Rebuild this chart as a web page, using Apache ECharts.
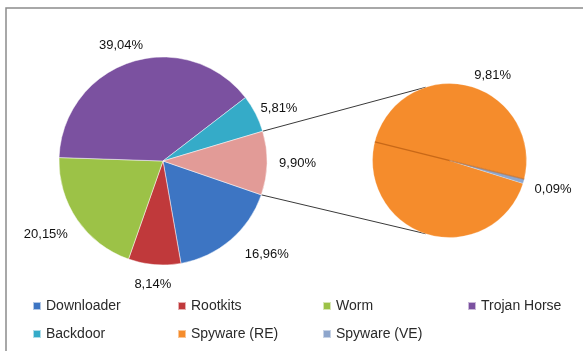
<!DOCTYPE html>
<html><head><meta charset="utf-8">
<script src="https://cdn.jsdelivr.net/npm/echarts@6/dist/echarts.min.js"></script>
<style>html,body{margin:0;padding:0;background:#fff}#c{width:583px;height:351px}</style>
</head><body><div id="c"></div>
<script>
// ---- data ----
const mainNames = ['Downloader', 'Rootkits', 'Worm', 'Trojan Horse', 'Backdoor', 'Spyware'];
const mainValues = [16.96, 8.14, 20.15, 39.04, 5.81, 9.90];
const subNames = ['Spyware (RE)', 'Spyware (VE)'];
const subValues = [9.81, 0.09];
const legendColumns = [['Downloader', 'Backdoor'], ['Rootkits', 'Spyware (RE)'], ['Worm', 'Spyware (VE)'], ['Trojan Horse']];

// ---- style ----
const colors = {
  'Downloader': '#3d75c3', 'Rootkits': '#c0393b', 'Worm': '#9cc247', 'Trojan Horse': '#7b51a0',
  'Backdoor': '#35abc8', 'Spyware': '#e29b97', 'Spyware (RE)': '#f58c2c', 'Spyware (VE)': '#8ea6cc'
};
const MAIN = {cx: 163, cy: 161, r: 104, start: -19};
const SUB = {cx: 449.5, cy: 160.5, r: 77, start: -17.3, connAngle: 108};
// label placement tweaks (angle in degrees, gap in px from rim)
const mainLabelAngle = [-42, null, -148, 110, 24.5, null];
const mainLabelGap = [15, 12, 12, 5, 4, 12];
const subLabelAngle = [63, null];
const subLabelGap = [4, 11];

const fmt = v => v.toFixed(2).replace('.', ',') + '%';
const sum = a => a.reduce((s, v) => s + v, 0);

function midAngle(values, start, i) {
  const t = sum(values);
  const cum = sum(values.slice(0, i));
  return start - (cum + values[i] / 2) / t * 360;
}
function labelPlacer(P, values, gaps, angleOverride) {
  return function (params) {
    const i = params.dataIndex;
    let a = midAngle(values, P.start, i);
    if (angleOverride && angleOverride[i] != null) a = angleOverride[i];
    const rad = a * Math.PI / 180, dx = Math.cos(rad), dy = -Math.sin(rad);
    const w = params.labelRect.width, h = params.labelRect.height;
    const d = P.r + gaps[i] + (w / 2) * Math.abs(dx) + (h / 2) * Math.abs(dy);
    return {x: P.cx + dx * d, y: P.cy + dy * d, align: 'center', verticalAlign: 'middle'};
  };
}
function pt(P, deg) {
  const r = deg * Math.PI / 180;
  return [P.cx + P.r * Math.cos(r), P.cy - P.r * Math.sin(r)];
}

// connectors: edges of the combined "Spyware" slice in main pie to secondary pie
const tot = sum(mainValues);
const otherIdx = mainNames.indexOf('Spyware');
const aUpper = MAIN.start - sum(mainValues.slice(0, otherIdx)) / tot * 360;
const aLower = MAIN.start - sum(mainValues.slice(0, otherIdx + 1)) / tot * 360;
const pTop = pt(MAIN, aUpper), pBot = pt(MAIN, aLower);
const sTop = pt(SUB, SUB.connAngle), sBot = pt(SUB, -SUB.connAngle);
// diameter line along small slice edge in secondary pie
const subSplit = SUB.start - subValues[0] / sum(subValues) * 360;
const d1 = pt(SUB, subSplit + 360), d2 = pt(SUB, subSplit + 180);

const labelFont = {fontFamily: 'Liberation Sans', fontSize: 13, color: '#111'};
const chart = echarts.init(document.getElementById('c'), null, {renderer: 'canvas'});
const legends = legendColumns.map((col, k) => ({
  data: col, orient: 'vertical', left: 32 + k * 145, top: 299, itemGap: 14, padding: 0,
  itemWidth: 8, itemHeight: 8, icon: 'rect', selectedMode: false,
  textStyle: {fontFamily: 'Liberation Sans', fontSize: 14, color: '#2a2a2a'}
}));
chart.setOption({
  backgroundColor: '#fff',
  animation: false,
  legend: legends,
  graphic: [
    {type: 'polyline', shape: {points: [[6, 360], [6, 8], [600, 8]]}, style: {stroke: '#8c8c8c', lineWidth: 1.5, fill: null}, z: 0},
    {type: 'line', shape: {x1: pTop[0], y1: pTop[1], x2: sTop[0], y2: sTop[1]}, style: {stroke: '#3a3a3a', lineWidth: 1}},
    {type: 'line', shape: {x1: pBot[0], y1: pBot[1], x2: sBot[0], y2: sBot[1]}, style: {stroke: '#3a3a3a', lineWidth: 1}},
    {type: 'line', shape: {x1: d1[0], y1: d1[1], x2: d2[0], y2: d2[1]}, style: {stroke: 'rgba(170,80,10,0.6)', lineWidth: 1.3}, z: 10}
  ],
  series: [
    {
      type: 'pie', center: [MAIN.cx, MAIN.cy], radius: MAIN.r, startAngle: MAIN.start, clockwise: true,
      avoidLabelOverlap: false,
      itemStyle: {borderColor: 'rgba(255,255,255,0.6)', borderWidth: 0.8},
      label: Object.assign({show: true, position: 'outside', formatter: p => fmt(p.value)}, labelFont),
      labelLine: {show: false},
      labelLayout: labelPlacer(MAIN, mainValues, mainLabelGap, mainLabelAngle),
      data: mainNames.map((n, i) => ({name: n, value: mainValues[i], itemStyle: {color: colors[n]}}))
    },
    {
      type: 'pie', center: [SUB.cx, SUB.cy], radius: SUB.r, startAngle: SUB.start, clockwise: true,
      avoidLabelOverlap: false,
      itemStyle: {borderColor: 'rgba(255,255,255,0.5)', borderWidth: 0.5},
      label: Object.assign({show: true, position: 'outside', formatter: p => fmt(p.value)}, labelFont),
      labelLine: {show: false},
      labelLayout: labelPlacer(SUB, subValues, subLabelGap, subLabelAngle),
      data: subNames.map((n, i) => ({name: n, value: subValues[i], itemStyle: {color: colors[n]}}))
    }
  ]
});
</script></body></html>
